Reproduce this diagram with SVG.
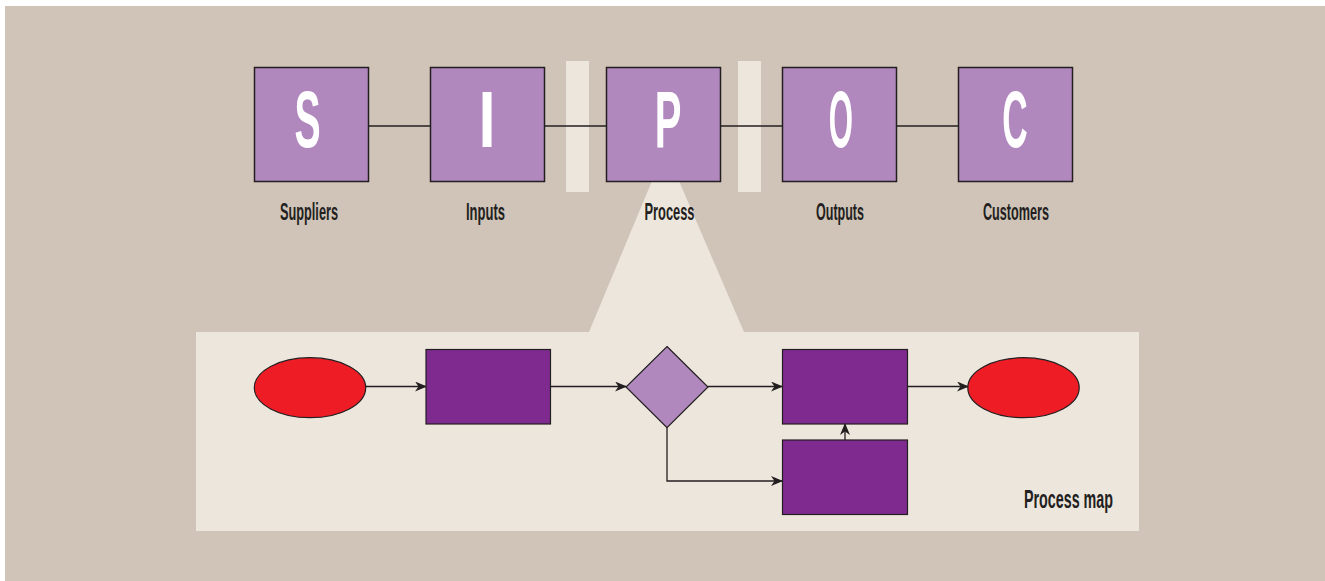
<svg xmlns="http://www.w3.org/2000/svg" width="1325" height="581" viewBox="0 0 1325 581">
<style>
.sq{fill:#b088be;stroke:#231f20;stroke-width:1.5}
.big{font-family:"Liberation Sans",Arial,sans-serif;font-weight:bold;font-size:80px;fill:#ffffff;text-anchor:middle}
.lbl{font-family:"Liberation Sans",Arial,sans-serif;font-weight:bold;font-size:24px;fill:#231f20}
.pr{fill:#7f2a8e;stroke:#231f20;stroke-width:1.2}
.el{fill:#ee1c25;stroke:#231f20;stroke-width:1.2}
.dm{fill:#b088be;stroke:#231f20;stroke-width:1.2}
.ln{fill:none;stroke:#231f20;stroke-width:1.3}
.ar{fill:none;stroke:#231f20;stroke-width:1.3;marker-end:url(#ah)}
</style>
<defs>
<marker id="ah" viewBox="0 0 12 10" refX="11" refY="5" markerWidth="12" markerHeight="10" markerUnits="userSpaceOnUse" orient="auto">
<path d="M0,0 L12,5 L0,10 L3.5,5 z" fill="#231f20"/>
</marker>
</defs>
<rect x="0" y="0" width="1325" height="581" fill="#ffffff"/>
<rect x="5" y="6" width="1320" height="575" fill="#d0c4b8"/>
<g id="bars">
<rect x="566" y="61" width="23" height="131" fill="#ede6dd"/>
<rect x="738" y="61" width="23" height="131" fill="#ede6dd"/>
</g>
<g id="zoom-beam">
<polygon points="652,181 679,181 744,332 589,332" fill="#ede6dd"/>
</g>
<g id="process-panel">
<rect x="196" y="332" width="943" height="199" fill="#ede6dd"/>
</g>
<g id="connectors">
<line class="ln" x1="368" y1="126" x2="430" y2="126"/>
<line class="ln" x1="544" y1="126" x2="606" y2="126"/>
<line class="ln" x1="720" y1="126" x2="782" y2="126"/>
<line class="ln" x1="896" y1="126" x2="958" y2="126"/>
<line class="ar" x1="366" y1="386.5" x2="426" y2="386.5"/>
<line class="ar" x1="551" y1="386.5" x2="626" y2="386.5"/>
<line class="ar" x1="708" y1="386.5" x2="782" y2="386.5"/>
<line class="ar" x1="908" y1="386.5" x2="968" y2="386.5"/>
<polyline class="ar" points="667,428 667,481 782,481"/>
<line class="ar" x1="845" y1="440" x2="845" y2="424"/>
</g>
<g id="node-S">
<rect class="sq" x="254.5" y="67.5" width="114" height="114"/>
<text class="big" transform="translate(307.5,147) scale(0.49,1)">S</text>
<text class="lbl" x="280" y="220" textLength="58" lengthAdjust="spacingAndGlyphs">Suppliers</text>
</g>
<g id="node-I">
<rect class="sq" x="430.5" y="67.5" width="114" height="114"/>
<text class="big" transform="translate(487,147) scale(0.77,1)">I</text>
<text class="lbl" x="466" y="220" textLength="39" lengthAdjust="spacingAndGlyphs">Inputs</text>
</g>
<g id="node-P">
<rect class="sq" x="606.5" y="67.5" width="114" height="114"/>
<text class="big" transform="translate(668,147) scale(0.5,1)">P</text>
<text class="lbl" x="644.5" y="220" textLength="50" lengthAdjust="spacingAndGlyphs">Process</text>
</g>
<g id="node-O">
<rect class="sq" x="782.5" y="67.5" width="114" height="114"/>
<text class="big" transform="translate(841,147) scale(0.39,1)">O</text>
<text class="lbl" x="816" y="220" textLength="48" lengthAdjust="spacingAndGlyphs">Outputs</text>
</g>
<g id="node-C">
<rect class="sq" x="958.5" y="67.5" width="114" height="114"/>
<text class="big" transform="translate(1015,147) scale(0.44,1)">C</text>
<text class="lbl" x="983" y="220" textLength="66" lengthAdjust="spacingAndGlyphs">Customers</text>
</g>
<g id="pm-start">
<ellipse class="el" cx="310" cy="387.7" rx="55.7" ry="30"/>
</g>
<g id="pm-step1">
<rect class="pr" x="426" y="349.5" width="124.5" height="74.5"/>
</g>
<g id="pm-decision">
<polygon class="dm" points="667,346.5 708,387 667,427.7 626,387"/>
</g>
<g id="pm-step2">
<rect class="pr" x="782.5" y="349.5" width="125" height="74.5"/>
</g>
<g id="pm-step3">
<rect class="pr" x="782.5" y="440" width="125" height="74.5"/>
</g>
<g id="pm-end">
<ellipse class="el" cx="1023.5" cy="387.7" rx="55.7" ry="30"/>
</g>
<g id="pm-label">
<text class="lbl" x="1024" y="508" font-size="26" textLength="89" lengthAdjust="spacingAndGlyphs" style="font-size:26px">Process map</text>
</g>
</svg>
